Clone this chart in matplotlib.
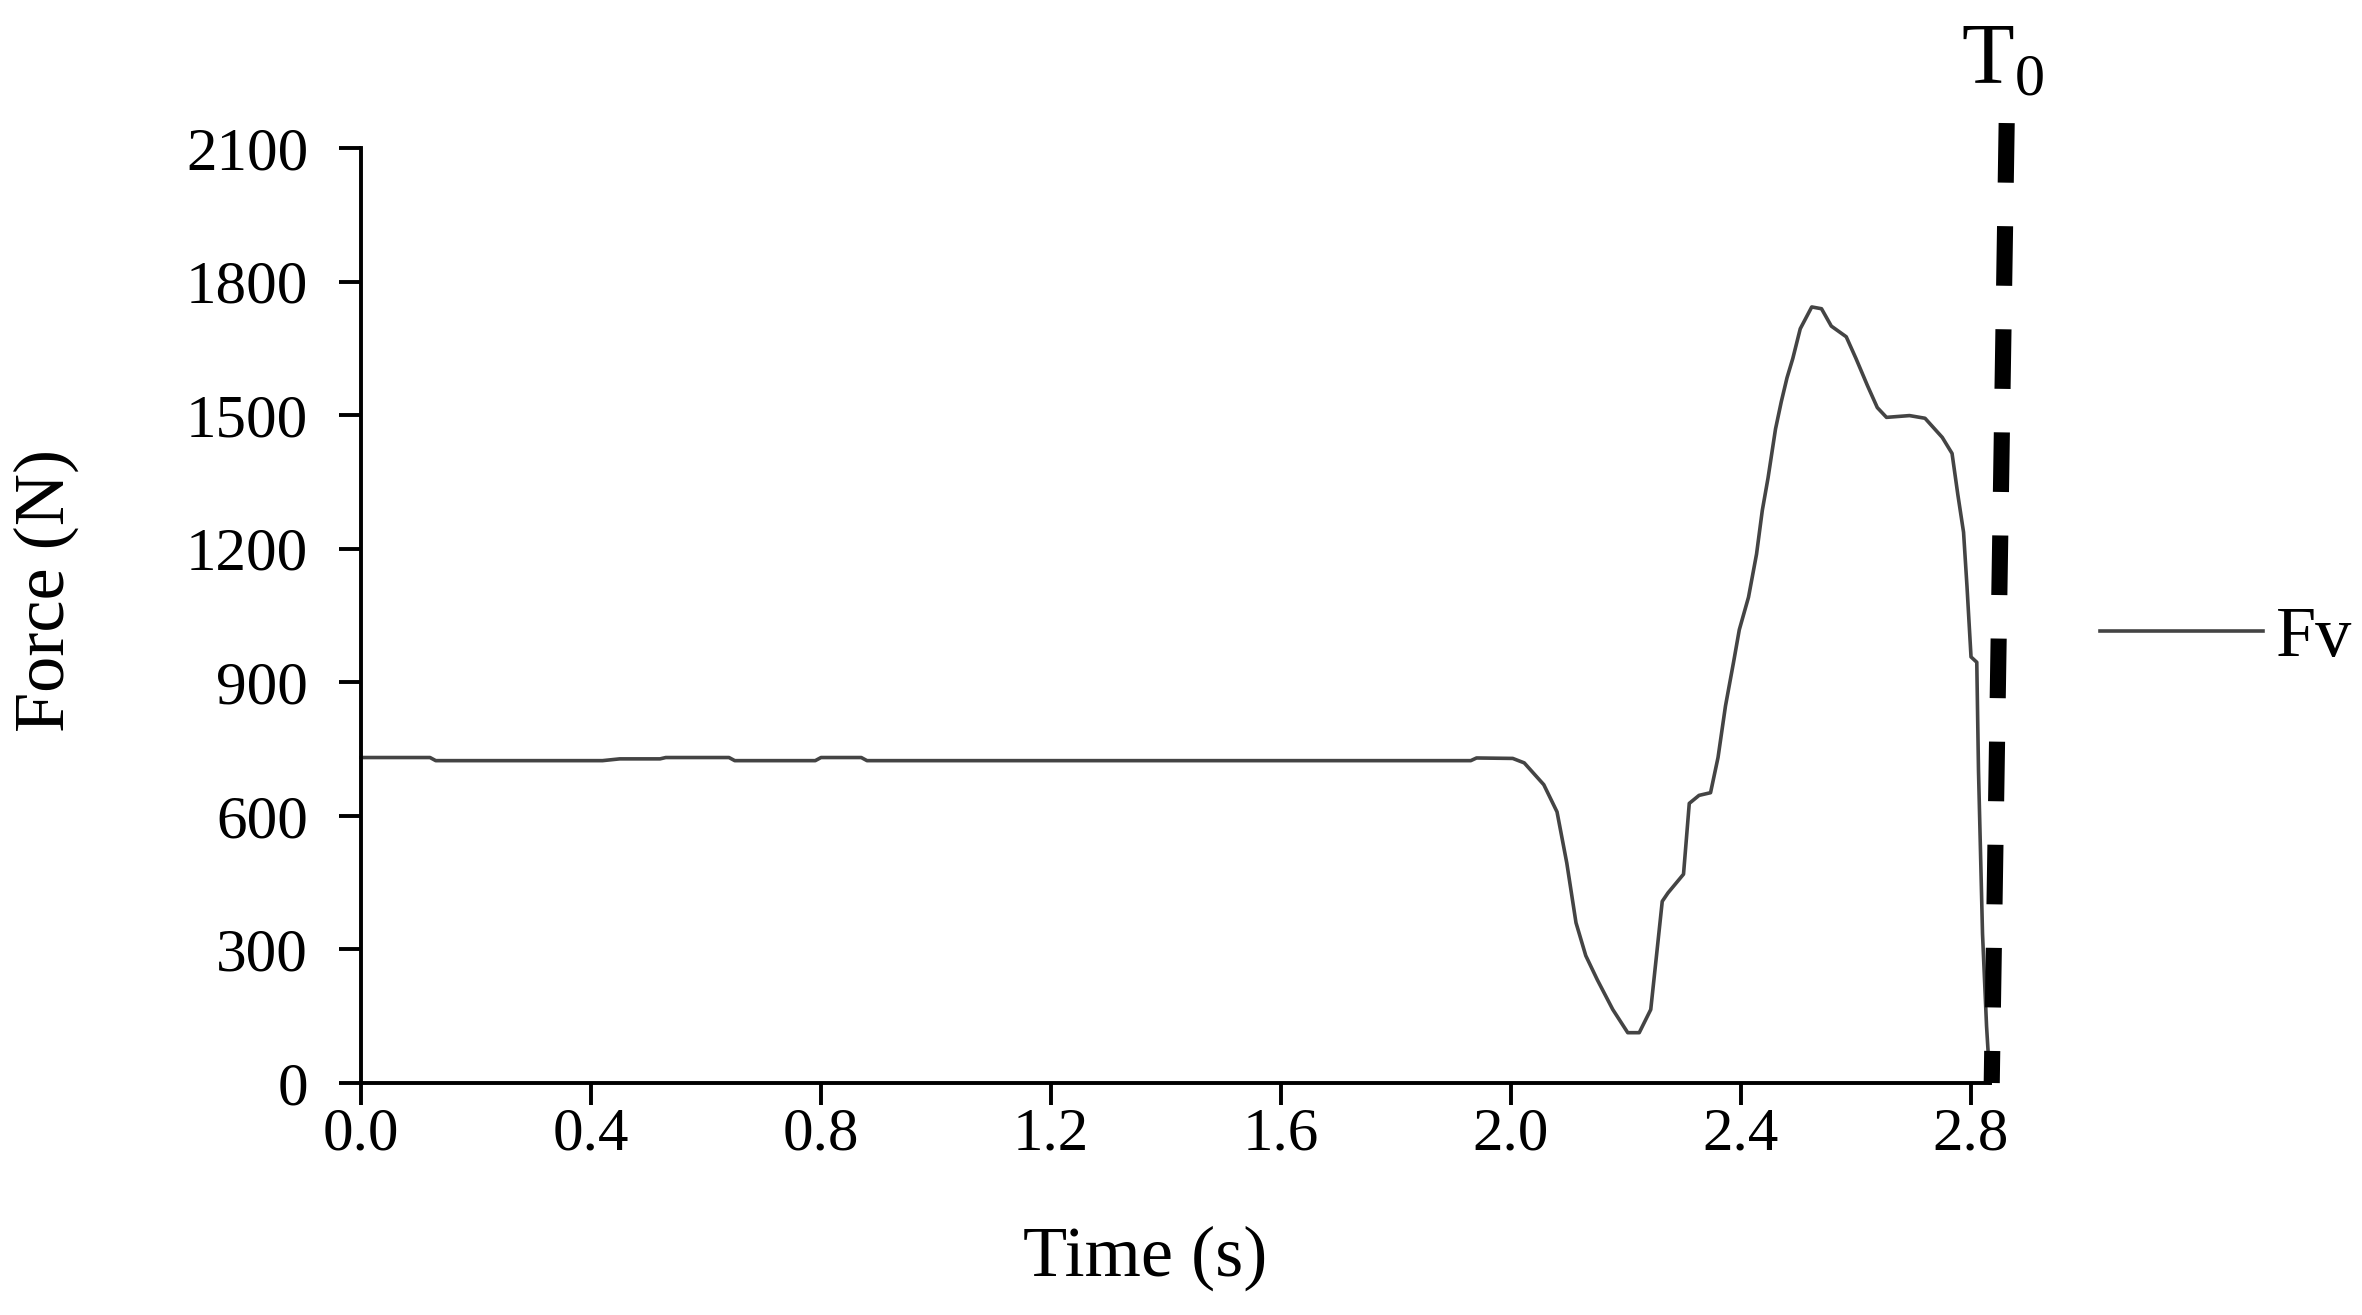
import matplotlib
matplotlib.use("Agg")
import matplotlib.pyplot as plt

# vertical force trace
time = [0.0, 0.12, 0.13, 0.42, 0.45, 0.52, 0.53, 0.64, 0.65, 0.79, 0.80, 0.87,
        0.88, 1.93, 1.94, 2.003, 2.023, 2.057, 2.08, 2.097, 2.113, 2.13, 2.15,
        2.177, 2.203, 2.223, 2.243, 2.253, 2.263, 2.273, 2.30, 2.31, 2.327,
        2.347, 2.36, 2.373, 2.387, 2.397, 2.413, 2.427, 2.437, 2.447, 2.46,
        2.47, 2.48, 2.49, 2.503, 2.523, 2.54, 2.557, 2.583, 2.60, 2.62, 2.637,
        2.653, 2.693, 2.72, 2.75, 2.767, 2.777, 2.787, 2.793, 2.80, 2.81,
        2.813, 2.82, 2.827, 2.833]
force = [731, 731, 724, 724, 728, 728, 731, 731, 724, 724, 731, 731,
         724, 724, 730, 729, 719, 670, 609, 494, 360, 286, 232,
         165, 113, 113, 165, 286, 408, 427, 469, 628, 646,
         652, 731, 847, 945, 1018, 1091, 1188, 1286, 1359, 1469,
         1530, 1584, 1627, 1694, 1743, 1739, 1700, 1676, 1627, 1566, 1517,
         1495, 1499, 1493, 1450, 1414, 1322, 1237, 1115, 957, 945,
         701, 335, 128, 0]

# T0 marker line (slightly tilted, as drawn in the original)
t0_time = [2.862, 2.836]
t0_force = [2156, 0]

xticks = [0.0, 0.4, 0.8, 1.2, 1.6, 2.0, 2.4, 2.8]
yticks = [0, 300, 600, 900, 1200, 1500, 1800, 2100]


def main():
    plt.rcParams['font.family'] = ['Liberation Serif', 'DejaVu Serif']
    plt.rcParams['mathtext.fontset'] = 'stix'

    fig = plt.figure(figsize=(11.81, 6.575), dpi=200)
    ax = fig.add_axes([361 / 2362, 1 - 1083 / 1315, (1990 - 361) / 2362, (1083 - 148) / 1315])

    ax.plot(time, force, color='#444444', lw=1.3, label='Fv', clip_on=False)
    ax.plot(t0_time, t0_force, color='black', lw=5.8, linestyle=(0, (3.7, 2.7)),
            solid_capstyle='butt', dash_capstyle='butt', clip_on=False)

    ax.set_xlim(0, 2.833)
    ax.set_ylim(0, 2100)
    ax.set_xticks(xticks)
    ax.set_xticklabels([f"{v:.1f}" for v in xticks])
    ax.set_yticks(yticks)

    for side in ['top', 'right']:
        ax.spines[side].set_visible(False)
    for side in ['left', 'bottom']:
        ax.spines[side].set_linewidth(1.4)

    ax.tick_params(direction='out', length=8, width=1.4, labelsize=22, colors='black')
    ax.tick_params(axis='y', pad=11)
    ax.tick_params(axis='x', pad=0.5)

    fig.text(1145 / 2362, 1 - 1258 / 1315, "Time (s)", fontsize=26, ha='center', va='center')
    fig.text(46 / 2362, 1 - 590 / 1315, "Force (N)", fontsize=26, ha='center', va='center',
             rotation=90)

    ax.text(2.855, 2205, r"$\mathregular{T_0}$", fontsize=31, ha='center', va='bottom')

    ax.legend(loc='center left', bbox_to_anchor=(2100 / 2362, 1 - 638 / 1315),
              bbox_transform=fig.transFigure, frameon=False, fontsize=26,
              handlelength=2.26, handletextpad=0.17, borderpad=0, borderaxespad=0)

    fig.savefig("out.png", dpi=200)


if __name__ == "__main__":
    main()
